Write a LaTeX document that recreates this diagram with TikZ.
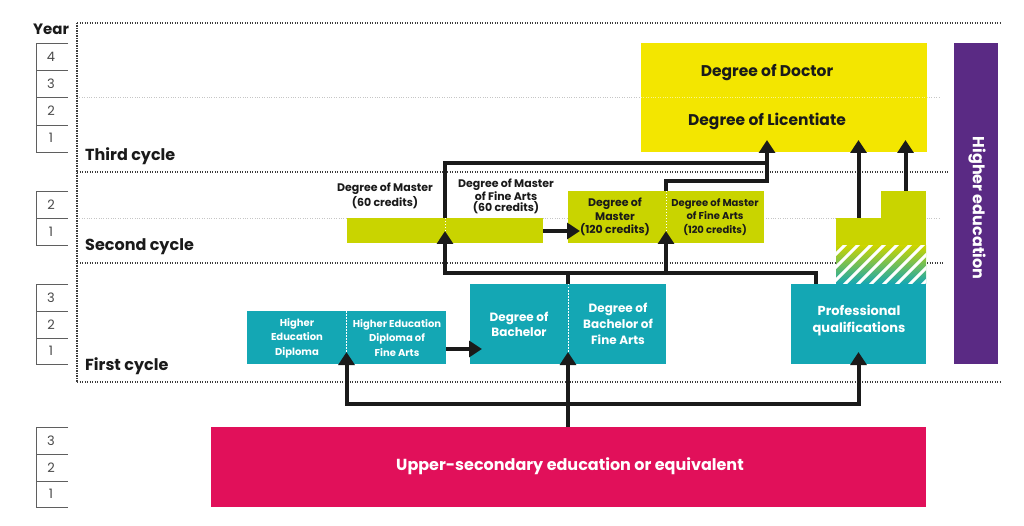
\documentclass[tikz,border=0pt]{standalone}
\usepackage{fontspec}
\setmainfont{Poppins}
\usetikzlibrary{arrows.meta,calc}
\definecolor{ink}{HTML}{1A1A1A}
\definecolor{cyellow}{HTML}{F3E600}
\definecolor{clime}{HTML}{C9D400}
\definecolor{cteal}{HTML}{14A7B4}
\definecolor{cpink}{HTML}{E1105A}
\definecolor{cpurple}{HTML}{5A2A84}
\begin{document}
\begin{tikzpicture}[x=1pt,y=-1pt,
  box/.style={rectangle,inner sep=0pt,outer sep=0pt,draw=none},
  lbl/.style={font=\bfseries\fontsize{11}{11}\selectfont,align=center,text=ink,inner sep=0pt},
  wlbl/.style={font=\bfseries\fontsize{10}{14.5}\selectfont,align=center,text=white,inner sep=0pt},
  big/.style={font=\bfseries\fontsize{15.5}{16}\selectfont,text=ink,inner sep=0pt,anchor=base},
  cyc/.style={font=\bfseries\fontsize{16}{16}\selectfont,text=ink,inner sep=0pt,anchor=base west},
  yr/.style={font=\fontsize{13}{14}\selectfont,text=ink!80,inner sep=0pt},
  darkdot/.style={draw=ink!85,line width=1.1pt,dash pattern=on 1.1pt off 1.4pt},
  lightdot/.style={draw=gray!45,line width=0.8pt,dash pattern=on 1pt off 1.4pt},
  divider/.style={draw=white,line width=0.9pt,dash pattern=on 1.5pt off 1.5pt},
  conn/.style={draw=ink,line width=4pt},
  arr/.style={conn,-{Triangle[width=16pt,length=13pt]},shorten >=-12pt},
  ybox/.style={draw=ink!70,line width=0.7pt}
]
\useasboundingbox (0,0) rectangle (1024,526);

% ---------- dotted guide lines
\draw[lightdot] (77,97) -- (940,97);
\draw[lightdot] (77,218) -- (940,218);
\draw[darkdot] (77,23) -- (1000,23);
\draw[darkdot] (77,172) -- (948,172);
\draw[darkdot] (77,263) -- (944,263);
\draw[darkdot] (77,382) -- (1000,382);
\draw[darkdot] (77,23) -- (77,382);

% ---------- year scales
\node[font=\bfseries\fontsize{15}{16}\selectfont,text=ink,inner sep=0pt] (year) at (51,29) {Year};
\draw[ybox] (68,43) -- (36,43) -- (36,152) -- (68,152);
\draw[ybox] (36,70) -- (68,70) (36,97) -- (68,97) (36,125) -- (68,125);
\node[yr] (y34) at (51,57) {4};
\node[yr] (y33) at (51,84) {3};
\node[yr] (y32) at (51,111) {2};
\node[yr] (y31) at (51,138) {1};
\draw[ybox] (68,191) -- (36,191) -- (36,245) -- (68,245);
\draw[ybox] (36,218) -- (68,218);
\node[yr] (y22) at (51,205) {2};
\node[yr] (y21) at (51,232) {1};
\draw[ybox] (68,284) -- (36,284) -- (36,364) -- (68,364);
\draw[ybox] (36,311) -- (68,311) (36,338) -- (68,338);
\node[yr] (y13) at (51,298) {3};
\node[yr] (y12) at (51,325) {2};
\node[yr] (y11) at (51,351) {1};
\draw[ybox] (68,427) -- (36,427) -- (36,507) -- (68,507);
\draw[ybox] (36,454) -- (68,454) (36,481) -- (68,481);
\node[yr] (y03) at (51,441) {3};
\node[yr] (y02) at (51,468) {2};
\node[yr] (y01) at (51,494) {1};

% ---------- cycle labels
\node[cyc] (third) at (85,161) {Third cycle};
\node[cyc] (second) at (85,251) {Second cycle};
\node[cyc] (first) at (85,370) {First cycle};

% ---------- boxes
\node[box,fill=cyellow,minimum width=286pt,minimum height=109pt] (doc) at (784,97.5) {};
\draw[draw=white!55!cyellow,line width=0.8pt,dash pattern=on 1pt off 1.4pt] (doc.west) -- (doc.east);
\node[big] (doctor) at (767,77) {Degree of Doctor};
\node[big] (lic) at (767,126) {Degree of Licentiate};

\node[box,fill=clime,minimum width=196pt,minimum height=25pt] (m60) at (445,230.5) {};
\node[box,fill=clime,minimum width=196pt,minimum height=52pt] (m120) at (666,217) {};

\node[box,fill=cteal,minimum width=199pt,minimum height=53pt] (dip) at (346.5,337.5) {};
\node[box,fill=cteal,minimum width=196pt,minimum height=80pt] (bach) at (568,324) {};
\node[box,fill=cteal,minimum width=135pt,minimum height=80pt] (prof) at (858.5,324) {};

\node[box,fill=clime,minimum width=90pt,minimum height=28pt] (plow) at (881,232) {};
\node[box,fill=clime,minimum width=45pt,minimum height=27.5pt] (pstep) at (903.5,204.75) {};
\node[box,minimum width=90pt,minimum height=38pt] (phatch) at (881,265) {};
\shade[top color=clime,bottom color=cteal] (phatch.north west) rectangle (phatch.south east);
\begin{scope}
  \clip (phatch.north west) rectangle (phatch.south east);
  \foreach \i in {0,...,11}
    \draw[white,line width=3pt] (800+\i*13,290) -- ++(50,-50);
\end{scope}

\node[box,fill=cpurple,minimum width=44pt,minimum height=321pt] (he) at (976,203.5) {};
\node[font=\bfseries\fontsize{16}{16}\selectfont,text=white,rotate=-90,inner sep=0pt] (helbl) at (977,208) {Higher education};

\node[box,fill=cpink,minimum width=715pt,minimum height=80pt] (pink) at (568.5,467) {};
\node[font=\bfseries\fontsize{16}{16}\selectfont,text=white,inner sep=0pt] (pinklbl) at (570,466) {Upper-secondary education or equivalent};

% ---------- labels
\node[lbl,font=\bfseries\fontsize{11}{15}\selectfont] (t60a) at (385,196) {Degree of Master\\(60 credits)};
\node[lbl,font=\bfseries\fontsize{11}{11}\selectfont] (t60b) at (506,196) {Degree of Master\\of Fine Arts\\(60 credits)};
\node[lbl,font=\bfseries\fontsize{11}{13.5}\selectfont] (t120a) at (615,217) {Degree of\\Master\\(120 credits)};
\node[lbl,font=\bfseries\fontsize{10}{13.5}\selectfont] (t120b) at (715,217) {Degree of Master\\of Fine Arts\\(120 credits)};
\node[wlbl] (tdipa) at (297,338) {Higher\\Education\\Diploma};
\node[wlbl] (tdipb) at (397,338) {Higher Education\\Diploma of\\Fine Arts};
\node[wlbl,font=\bfseries\fontsize{12}{15.5}\selectfont] (tba) at (519,324.5) {Degree of\\Bachelor};
\node[wlbl,font=\bfseries\fontsize{12}{16}\selectfont] (tbb) at (618,324) {Degree of\\Bachelor of\\Fine Arts};
\node[wlbl,font=\bfseries\fontsize{13}{17}\selectfont] (tprof) at (859,320.5) {Professional\\qualifications};

% ---------- connectors
\coordinate (j1) at (568,404);
\coordinate (j2) at (568,273);
\draw[arr] (bach.south |- pink.north) -- (bach.south);
\draw[arr] (j1) -| (dip.south);
\draw[arr] (j1) -| (prof.south);
\draw[arr] (dip.east |- 0,349) -- (bach.west |- 0,349);
\draw[arr] (m60.east |- 0,231) -- (m120.west |- 0,231);
\draw[conn] (bach.north) -- (j2);
\draw[arr] (j2) -| (m60.south);
\draw[arr] (j2) -| (m120.south);
\draw[conn,line join=miter] (j2) -| ([xshift=25pt]prof.north west);
\draw[arr] (m60.north) -- ++(0,-55) -| (lic.south |- doc.south);
\draw[conn] (m120.north) -- ++(0,-10) -| (lic.south |- 0,165);
\draw[arr] (prof.north |- plow.north) -- (prof.north |- doc.south);
\draw[arr] ([xshift=2pt]pstep.north) -- ([xshift=2pt]pstep.north |- doc.south);

% ---------- dividers
\draw[divider] (m60.north) -- ([yshift=12pt]m60.south);
\draw[divider] (m120.north) -- ([yshift=12pt]m120.south);
\draw[divider] (dip.north) -- ([yshift=12pt]dip.south);
\draw[divider] (bach.north) -- ([yshift=12pt]bach.south);
\end{tikzpicture}
\end{document}
